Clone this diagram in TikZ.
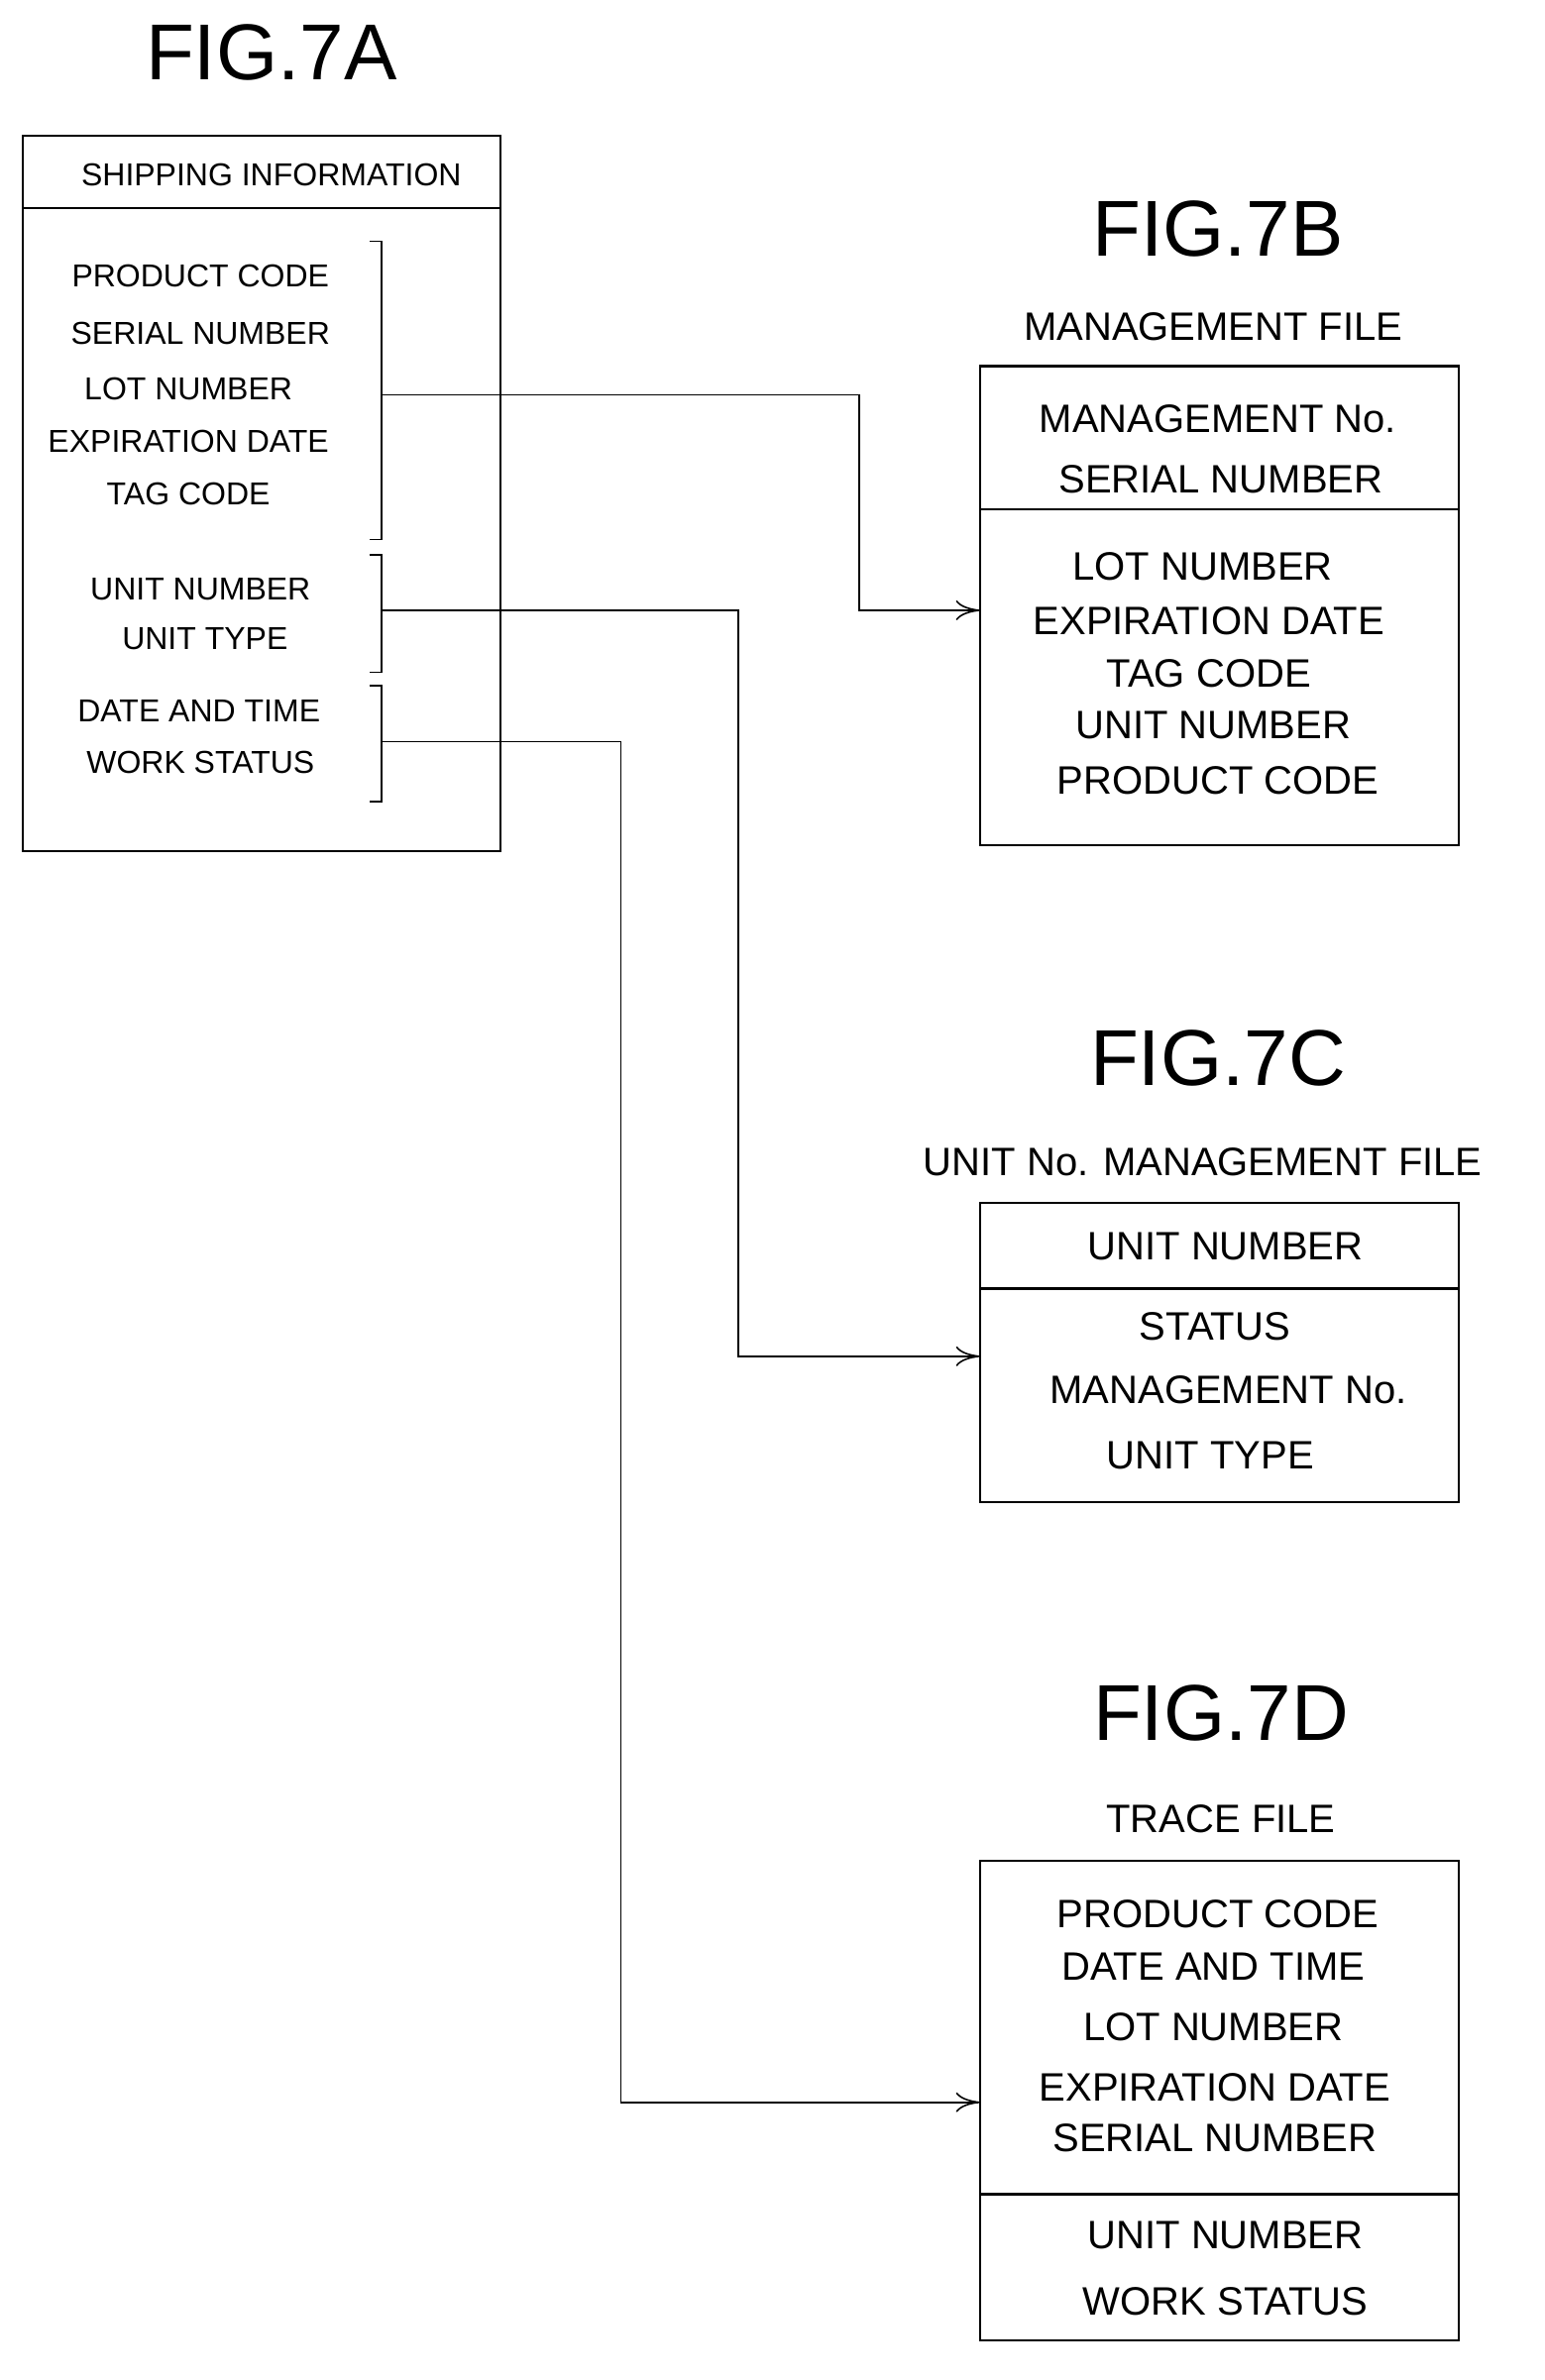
\documentclass[tikz,border=0pt]{standalone}
\usepackage{fontspec}
\setmainfont{Liberation Sans}
\usetikzlibrary{arrows.meta}
\begin{document}
\begin{tikzpicture}[x=0.7605pt,y=-0.7605pt,
  fig/.style={font=\fontsize{40}{44}\selectfont},
  sm/.style={font=\fontsize{16}{18}\selectfont},
  md/.style={font=\fontsize{20}{22}\selectfont},
  box/.style={draw,line width=1.1pt},
  conn/.style={line width=0.8pt,-{To[length=12pt,width=10pt]}},
  brk/.style={line width=0.8pt}]
\useasboundingbox (0,0) rectangle (1024.4,1579.3);
% FIG 7A
\node[fig] (t7a) at (180,35) {FIG.7A};
\draw[box] (15,90) rectangle (332,565);
\draw[box] (15,138) -- (332,138);
\node[sm] (sh) at (180,116) {SHIPPING INFORMATION};
\node[sm] (a1) at (133,183) {PRODUCT CODE};
\node[sm] (a2) at (133,221) {SERIAL NUMBER};
\node[sm] (a3) at (125,258) {LOT NUMBER};
\node[sm] (a4) at (125,293) {EXPIRATION DATE};
\node[sm] (a5) at (125,328) {TAG CODE};
\node[sm] (a6) at (133,391) {UNIT NUMBER};
\node[sm] (a7) at (136,424) {UNIT TYPE};
\node[sm] (a8) at (132,472) {DATE AND TIME};
\node[sm] (a9) at (133,506) {WORK STATUS};
\draw[brk] (245,160) -- (253,160) -- (253,358) -- (245,358);
\draw[brk] (245,368) -- (253,368) -- (253,446) -- (245,446);
\draw[brk] (245,455) -- (253,455) -- (253,532) -- (245,532);
\coordinate (s1) at (253,262);
\coordinate (s2) at (253,405);
\coordinate (s3) at (253,492);
% FIG 7B
\node[fig] (t7b) at (808,152) {FIG.7B};
\node[md] (lb) at (805,217) {MANAGEMENT FILE};
\draw[box] (650,243) rectangle (968,561);
\draw[box] (650,338) -- (968,338);
\node[md] at (808,278) {MANAGEMENT No.};
\node[md] at (810,318) {SERIAL NUMBER};
\node[md] at (798,376) {LOT NUMBER};
\node[md] at (802,412) {EXPIRATION DATE};
\node[md] at (802,447) {TAG CODE};
\node[md] at (805,481) {UNIT NUMBER};
\node[md] at (808,518) {PRODUCT CODE};
\coordinate (eb) at (650,405);
% FIG 7C
\node[fig] (t7c) at (808,702) {FIG.7C};
\node[md] (lc) at (798,771) {UNIT No. MANAGEMENT FILE};
\draw[box] (650,798) rectangle (968,997);
\draw[box] (650,855) -- (968,855);
\node[md] at (813,827) {UNIT NUMBER};
\node[md] at (806,880) {STATUS};
\node[md] at (815,922) {MANAGEMENT No.};
\node[md] at (803,966) {UNIT TYPE};
\coordinate (ec) at (650,900);
% FIG 7D
\node[fig] (t7d) at (810,1137) {FIG.7D};
\node[md] (ld) at (810,1207) {TRACE FILE};
\draw[box] (650,1235) rectangle (968,1553);
\draw[box] (650,1456) -- (968,1456);
\node[md] at (808,1270) {PRODUCT CODE};
\node[md] at (805,1305) {DATE AND TIME};
\node[md] at (805,1345) {LOT NUMBER};
\node[md] at (806,1385) {EXPIRATION DATE};
\node[md] at (806,1419) {SERIAL NUMBER};
\node[md] at (813,1483) {UNIT NUMBER};
\node[md] at (813,1527) {WORK STATUS};
\coordinate (ed) at (650,1395);
% connectors
\draw[conn] (s1) -- (570,262) -- (570,405) -- (eb);
\draw[conn] (s2) -- (490,405) -- (490,900) -- (ec);
\draw[conn] (s3) -- (412,492) -- (412,1395) -- (ed);
\end{tikzpicture}
\end{document}
